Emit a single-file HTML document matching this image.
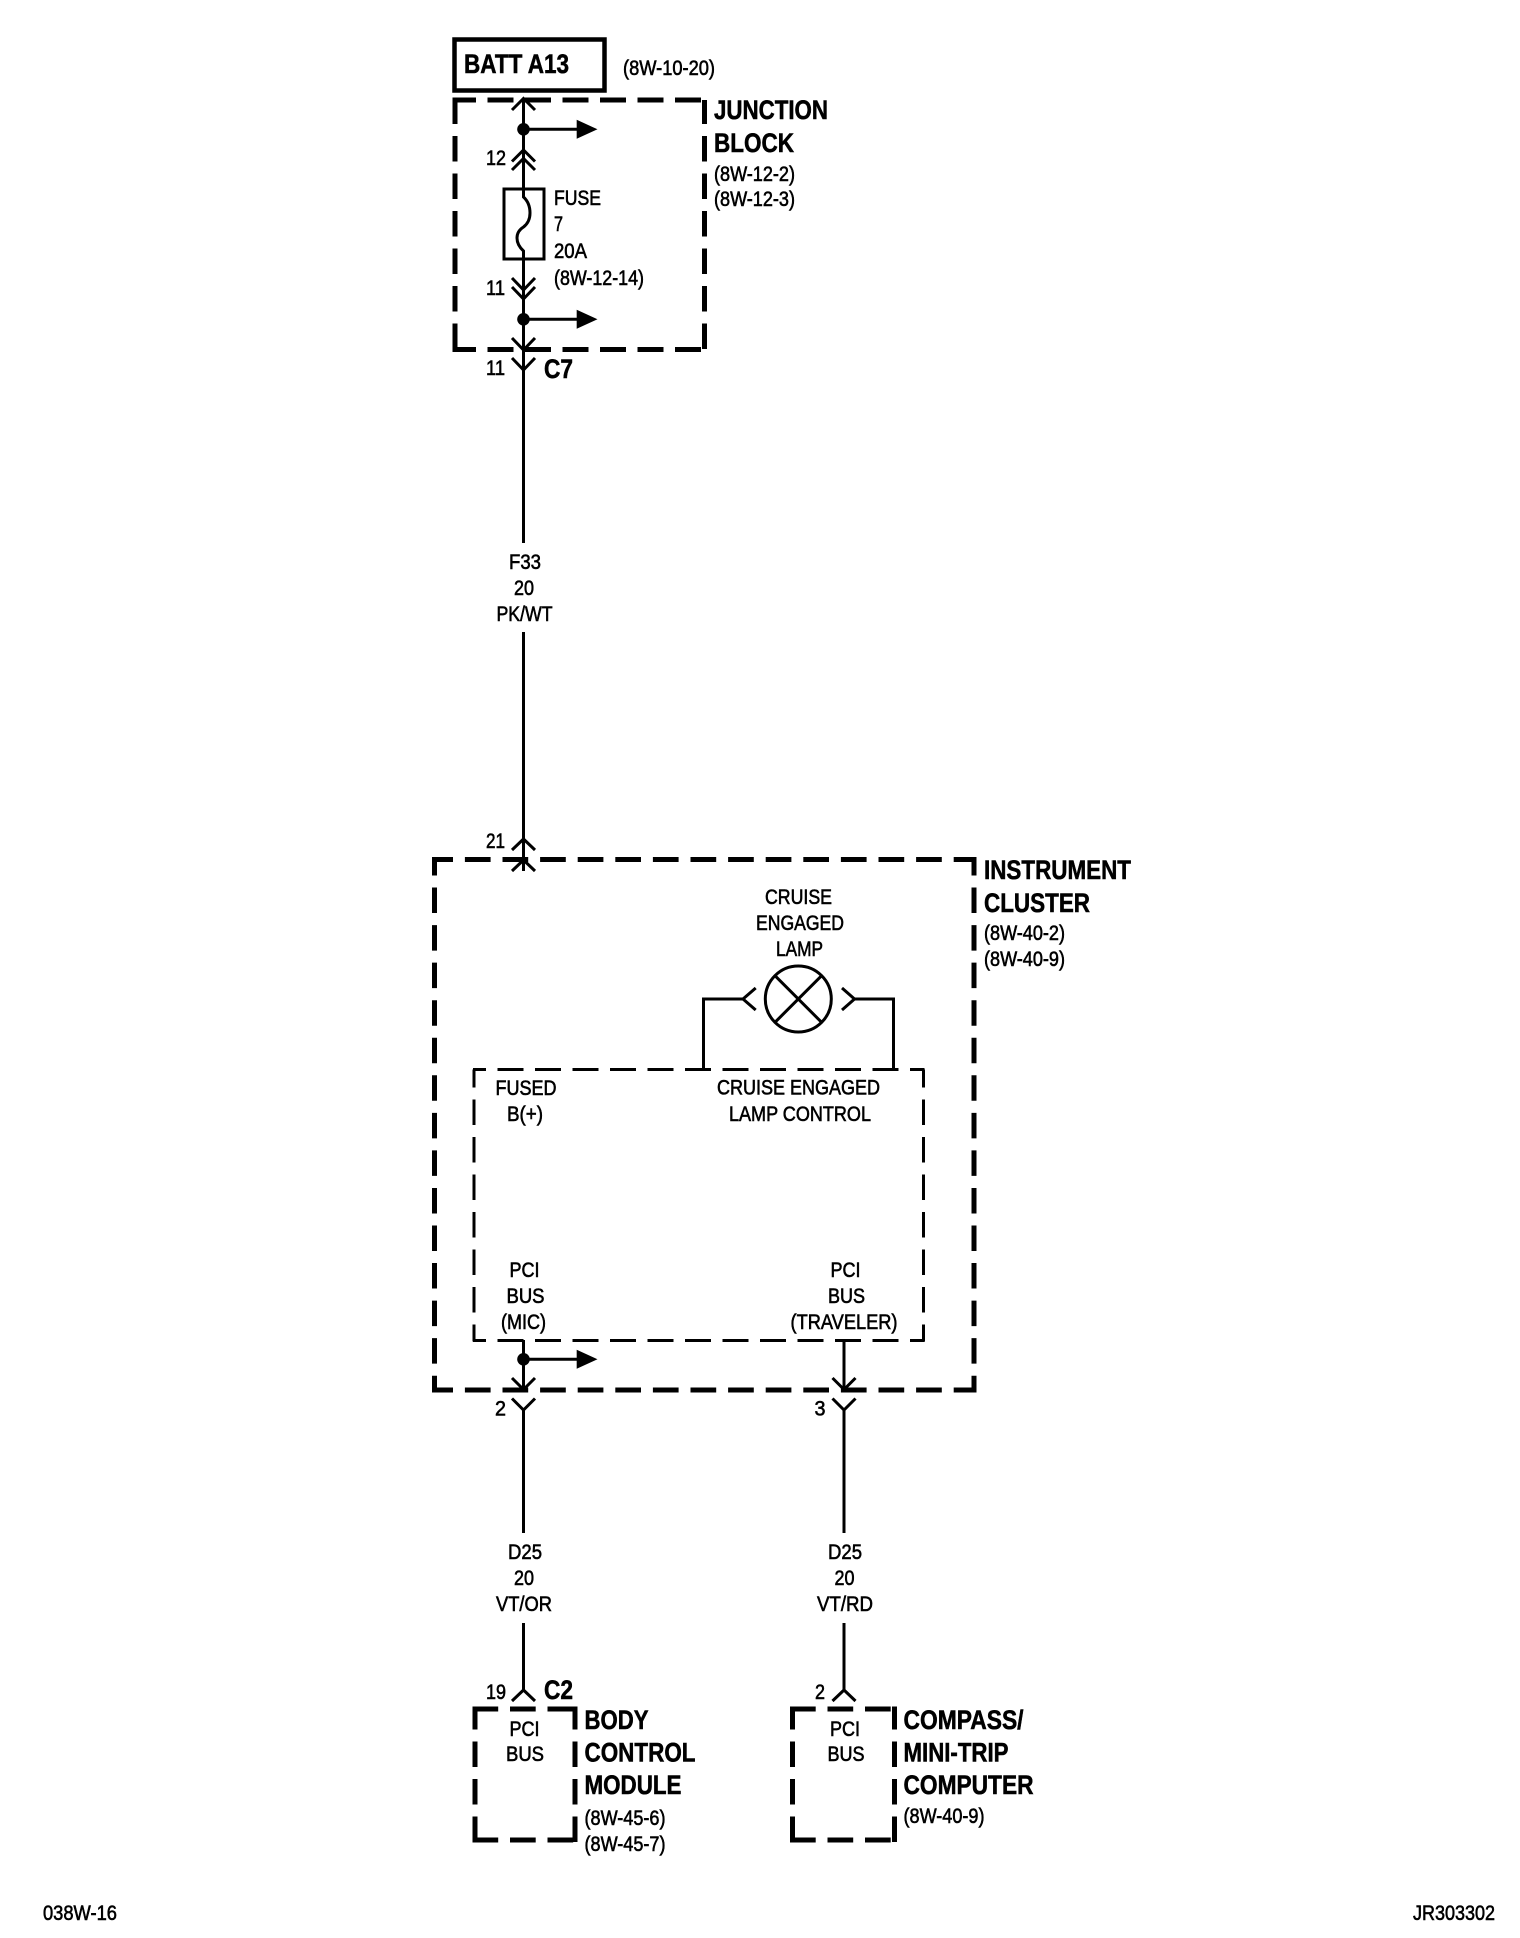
<!DOCTYPE html>
<html lang="en">
<head>
<meta charset="utf-8">
<title>Wiring diagram 038W-16</title>
<style>
html,body{margin:0;padding:0;background:#fff;width:1520px;height:1938px;overflow:hidden}
svg{display:block}
text{font-family:"Liberation Sans",Arial,sans-serif;fill:#000;font-size:21px;stroke:#000;stroke-width:.6px}
text.b{font-weight:bold;font-size:27px;stroke-width:.55px}
.w{fill:none;stroke:#000;stroke-width:3}
.c{fill:none;stroke:#000;stroke-width:3;stroke-linejoin:miter}
.k{fill:none;stroke:#000;stroke-width:5}
.t{fill:none;stroke:#000;stroke-width:3}
</style>
</head>
<body>
<svg width="1520" height="1938" viewBox="0 0 1520 1938" xmlns="http://www.w3.org/2000/svg">
<rect width="1520" height="1938" fill="#fff"/>

<!-- BATT -->
<rect x="454.500" y="39.500" width="150" height="51" fill="none" stroke="#000" stroke-width="4.500"/>
<text class="b" x="464" y="73" textLength="105" lengthAdjust="spacingAndGlyphs">BATT A13</text>
<text x="623" y="75" textLength="92" lengthAdjust="spacingAndGlyphs">(8W-10-20)</text>

<!-- Junction block -->
<g class="k">
<path class="k" stroke-dasharray="26 11.500" stroke-dashoffset="2.500" d="M452.500 100H707"/>
<path class="k" stroke-dasharray="26 11.500" stroke-dashoffset="2.500" d="M452.500 349.500H707"/>
<path class="k" stroke-dasharray="25.500 12" stroke-dashoffset="1.500" d="M455 100V352"/>
<path class="k" stroke-dasharray="25.500 12" stroke-dashoffset="1.500" d="M704.500 100V352"/>
</g>
<text class="b" x="714" y="119" textLength="114" lengthAdjust="spacingAndGlyphs">JUNCTION</text>
<text class="b" x="714" y="152" textLength="80" lengthAdjust="spacingAndGlyphs">BLOCK</text>
<text x="714" y="181" textLength="81" lengthAdjust="spacingAndGlyphs">(8W-12-2)</text>
<text x="714" y="206" textLength="81" lengthAdjust="spacingAndGlyphs">(8W-12-3)</text>

<!-- main wire & fuse -->
<path class="w" d="M523.500 98V197Q530 203 530 213Q530 222 523.500 227Q517 231 517 238Q517 245 523.500 251V543"/>
<path class="w" d="M523.500 632V871"/>
<rect x="504" y="189" width="40" height="70" fill="none" stroke="#000" stroke-width="3"/>
<path class="c" d="M512 110L523.500 98.500L535 110"/>
<path class="c" d="M512 161.500L523.500 150L535 161.500"/>
<path class="c" d="M512 170L523.500 158.500L535 170"/>
<path class="c" d="M512 278L523.500 290L535 278"/>
<path class="c" d="M512 287L523.500 299L535 287"/>
<path class="c" d="M512 338L523.500 350L535 338"/>
<path class="c" d="M512 358L523.500 370L535 358"/>
<circle cx="523.500" cy="129.300" r="6.300"/>
<circle cx="523.500" cy="319.300" r="6.300"/>
<path class="w" d="M523.500 129.300H578"/>
<path class="w" d="M523.500 319.300H578"/>
<path d="M576.700 119.800L597.500 129.300L576.700 138.800Z"/>
<path d="M576.700 309.800L597.500 319.300L576.700 328.800Z"/>

<text x="486" y="165" textLength="20" lengthAdjust="spacingAndGlyphs">12</text>
<text x="554" y="205" textLength="47" lengthAdjust="spacingAndGlyphs">FUSE</text>
<text x="554" y="231" textLength="9" lengthAdjust="spacingAndGlyphs">7</text>
<text x="554" y="258" textLength="33" lengthAdjust="spacingAndGlyphs">20A</text>
<text x="554" y="285" textLength="90" lengthAdjust="spacingAndGlyphs">(8W-12-14)</text>
<text x="486" y="295" textLength="19" lengthAdjust="spacingAndGlyphs">11</text>
<text x="486" y="375" textLength="19" lengthAdjust="spacingAndGlyphs">11</text>
<text class="b" x="544" y="378" textLength="29" lengthAdjust="spacingAndGlyphs">C7</text>

<text x="509" y="569" textLength="32" lengthAdjust="spacingAndGlyphs">F33</text>
<text x="514" y="595" textLength="20" lengthAdjust="spacingAndGlyphs">20</text>
<text x="496.500" y="621" textLength="56" lengthAdjust="spacingAndGlyphs">PK/WT</text>

<!-- Instrument cluster -->
<path class="c" d="M512 850L523.500 839L535 850"/>
<path class="c" d="M512 871L523.500 860L535 871"/>
<text x="486" y="848" textLength="19" lengthAdjust="spacingAndGlyphs">21</text>
<path class="k" stroke-dasharray="25.700 11.900" stroke-dashoffset="4.700" d="M432 859.500H976.500"/>
<path class="k" stroke-dasharray="25.700 11.900" stroke-dashoffset="4.700" d="M432 1390H976.500"/>
<path class="k" stroke-dasharray="25.500 12.050" stroke-dashoffset="9.500" d="M434.500 859.500V1392.500"/>
<path class="k" stroke-dasharray="25.500 12.050" stroke-dashoffset="9.500" d="M974 859.500V1392.500"/>
<text class="b" x="984" y="879" textLength="147" lengthAdjust="spacingAndGlyphs">INSTRUMENT</text>
<text class="b" x="984" y="912" textLength="106" lengthAdjust="spacingAndGlyphs">CLUSTER</text>
<text x="984" y="940" textLength="81" lengthAdjust="spacingAndGlyphs">(8W-40-2)</text>
<text x="984" y="966" textLength="81" lengthAdjust="spacingAndGlyphs">(8W-40-9)</text>

<!-- inner dashed -->
<path class="t" stroke-dasharray="26 11.500" stroke-dashoffset="13" d="M473 1069.500H924.500"/>
<path class="t" stroke-dasharray="26 11.500" stroke-dashoffset="13" d="M473 1340.500H924.500"/>
<path class="t" stroke-dasharray="25.500 12" stroke-dashoffset="7.500" d="M474 1069.500V1341.500"/>
<path class="t" stroke-dasharray="25.500 12" stroke-dashoffset="7.500" d="M923.500 1069.500V1341.500"/>

<!-- lamp -->
<text x="765" y="904" textLength="67" lengthAdjust="spacingAndGlyphs">CRUISE</text>
<text x="756" y="930" textLength="88" lengthAdjust="spacingAndGlyphs">ENGAGED</text>
<text x="776" y="956" textLength="47" lengthAdjust="spacingAndGlyphs">LAMP</text>
<circle cx="798.300" cy="999" r="33" fill="none" stroke="#000" stroke-width="3"/>
<path class="w" d="M775 975.700L821.600 1022.300M821.600 975.700L775 1022.300"/>
<path class="w" d="M703.500 1069V999H743"/>
<path class="w" d="M893.500 1069V999H854"/>
<path class="c" d="M755.700 988L743 999L755.700 1010"/>
<path class="c" d="M842 988L854.500 999L842 1010"/>

<text x="495.500" y="1095" textLength="61" lengthAdjust="spacingAndGlyphs">FUSED</text>
<text x="507" y="1121" textLength="36" lengthAdjust="spacingAndGlyphs">B(+)</text>
<text x="717" y="1094.500" textLength="163" lengthAdjust="spacingAndGlyphs">CRUISE ENGAGED</text>
<text x="729" y="1121" textLength="142" lengthAdjust="spacingAndGlyphs">LAMP CONTROL</text>

<text x="509.500" y="1277" textLength="30" lengthAdjust="spacingAndGlyphs">PCI</text>
<text x="506.500" y="1303" textLength="38" lengthAdjust="spacingAndGlyphs">BUS</text>
<text x="501" y="1329" textLength="45" lengthAdjust="spacingAndGlyphs">(MIC)</text>
<text x="830.500" y="1277" textLength="30" lengthAdjust="spacingAndGlyphs">PCI</text>
<text x="828" y="1303" textLength="37" lengthAdjust="spacingAndGlyphs">BUS</text>
<text x="790.500" y="1329" textLength="107" lengthAdjust="spacingAndGlyphs">(TRAVELER)</text>

<!-- lower wires -->
<path class="w" d="M523.500 1340V1390M523.500 1410V1533M523.500 1623V1691"/>
<path class="w" d="M844 1340V1390M844 1410V1533M844 1623V1691"/>
<circle cx="523.500" cy="1359.300" r="6.300"/>
<path class="w" d="M523.500 1359.300H578"/>
<path d="M576.700 1349.800L597.500 1359.300L576.700 1368.800Z"/>
<path class="c" d="M512 1378L523.500 1389.500L535 1378"/>
<path class="c" d="M512 1398.500L523.500 1410L535 1398.500"/>
<path class="c" d="M832.500 1378L844 1389.500L855.500 1378"/>
<path class="c" d="M832.500 1398.500L844 1410L855.500 1398.500"/>
<text x="495" y="1415.500" textLength="11" lengthAdjust="spacingAndGlyphs">2</text>
<text x="814.500" y="1415.500" textLength="11" lengthAdjust="spacingAndGlyphs">3</text>

<text x="508" y="1559" textLength="34" lengthAdjust="spacingAndGlyphs">D25</text>
<text x="514" y="1585" textLength="20" lengthAdjust="spacingAndGlyphs">20</text>
<text x="496" y="1611" textLength="56" lengthAdjust="spacingAndGlyphs">VT/OR</text>
<text x="828" y="1559" textLength="34" lengthAdjust="spacingAndGlyphs">D25</text>
<text x="834.500" y="1585" textLength="20" lengthAdjust="spacingAndGlyphs">20</text>
<text x="817" y="1611" textLength="56" lengthAdjust="spacingAndGlyphs">VT/RD</text>

<!-- bottom modules -->
<path class="c" d="M512 1701L523.500 1690L535 1701"/>
<path class="c" d="M832.500 1701L844 1690L855.500 1701"/>
<text x="486" y="1699" textLength="20" lengthAdjust="spacingAndGlyphs">19</text>
<text class="b" x="544" y="1699" textLength="29" lengthAdjust="spacingAndGlyphs">C2</text>
<text x="815" y="1699" textLength="10" lengthAdjust="spacingAndGlyphs">2</text>

<g>
<path class="k" stroke-dasharray="25.700 11.800" stroke-dashoffset="0" d="M472.500 1709H577"/>
<path class="k" stroke-dasharray="25.700 11.800" stroke-dashoffset="0" d="M472.500 1840H577"/>
<path class="k" stroke-dasharray="25.500 12" stroke-dashoffset="2.500" d="M475 1706.500V1842.500"/>
<path class="k" stroke-dasharray="25.500 12" stroke-dashoffset="2.500" d="M575 1706.500V1842.500"/>
<path class="k" stroke-dasharray="25.700 11.800" stroke-dashoffset="0" d="M790 1709H897"/>
<path class="k" stroke-dasharray="25.700 11.800" stroke-dashoffset="0" d="M790 1840H897"/>
<path class="k" stroke-dasharray="25.500 12" stroke-dashoffset="2.500" d="M792.500 1706.500V1842.500"/>
<path class="k" stroke-dasharray="25.500 12" stroke-dashoffset="2.500" d="M894.500 1706.500V1842.500"/>
</g>
<text x="509.500" y="1736" textLength="30" lengthAdjust="spacingAndGlyphs">PCI</text>
<text x="506" y="1761" textLength="38" lengthAdjust="spacingAndGlyphs">BUS</text>
<text x="830" y="1736" textLength="30" lengthAdjust="spacingAndGlyphs">PCI</text>
<text x="827.500" y="1761" textLength="37" lengthAdjust="spacingAndGlyphs">BUS</text>

<text class="b" x="584.500" y="1729" textLength="64" lengthAdjust="spacingAndGlyphs">BODY</text>
<text class="b" x="584.500" y="1761.500" textLength="111" lengthAdjust="spacingAndGlyphs">CONTROL</text>
<text class="b" x="584.500" y="1794" textLength="97" lengthAdjust="spacingAndGlyphs">MODULE</text>
<text x="584.500" y="1825" textLength="81" lengthAdjust="spacingAndGlyphs">(8W-45-6)</text>
<text x="584.500" y="1851" textLength="81" lengthAdjust="spacingAndGlyphs">(8W-45-7)</text>

<text class="b" x="903.500" y="1729" textLength="120" lengthAdjust="spacingAndGlyphs">COMPASS/</text>
<text class="b" x="903.500" y="1761.500" textLength="105" lengthAdjust="spacingAndGlyphs">MINI-TRIP</text>
<text class="b" x="903.500" y="1794" textLength="130" lengthAdjust="spacingAndGlyphs">COMPUTER</text>
<text x="903.500" y="1823" textLength="81" lengthAdjust="spacingAndGlyphs">(8W-40-9)</text>

<!-- footer -->
<text x="43" y="1920" textLength="74" lengthAdjust="spacingAndGlyphs">038W-16</text>
<text x="1413" y="1920" textLength="82" lengthAdjust="spacingAndGlyphs">JR303302</text>
</svg>
</body>
</html>
